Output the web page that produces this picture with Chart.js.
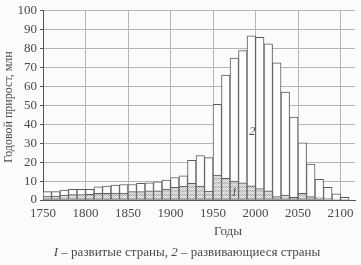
<!DOCTYPE html>
<html lang="ru">
<head>
<meta charset="UTF-8">
<title>Годовой прирост населения</title>
<script src="https://cdn.jsdelivr.net/npm/chart.js"></script>
<style>
  html, body { margin: 0; padding: 0; background: #fbfbfb; }
  #wrap { position: relative; width: 361px; height: 265px; }
</style>
</head>
<body>
<div id="wrap"><canvas id="myChart" width="361" height="265"></canvas></div>
<script>
// начало каждого десятилетия
const years = [1750, 1760, 1770, 1780, 1790, 1800, 1810, 1820, 1830, 1840,
               1850, 1860, 1870, 1880, 1890, 1900, 1910, 1920, 1930, 1940,
               1950, 1960, 1970, 1980, 1990, 2000, 2010, 2020, 2030, 2040,
               2050, 2060, 2070, 2080, 2090, 2100];
// 1 – развитые страны, млн в год
const developed = [2.1, 2.1, 2.6, 2.8, 2.9, 3.0, 3.5, 3.5, 3.6, 3.6,
                   4.4, 4.4, 4.9, 4.9, 5.8, 6.7, 7.4, 8.8, 7.4, 4.7,
                   13.2, 11.4, 10.0, 9.1, 7.5, 6.1, 4.9, 1.8, 2.6, 1.4,
                   3.5, 1.8, 1.2, 0.9, 0.5, 0.3];
// 2 – развивающиеся страны, млн в год
const developing = [2.3, 2.3, 2.7, 2.8, 2.7, 2.6, 3.5, 3.9, 4.3, 4.6,
                    3.8, 4.4, 4.2, 4.7, 4.7, 5.2, 5.4, 12.2, 16.1, 17.7,
                    37.3, 54.6, 65.0, 69.9, 79.3, 79.9, 77.6, 70.7, 54.4, 42.4,
                    26.7, 17.2, 9.7, 5.8, 2.7, 1.1];
const xTicks = [1750, 1800, 1850, 1900, 1950, 2000, 2050, 2100];
const yTicks = [0, 10, 20, 30, 40, 50, 60, 70, 80, 90, 100];

const ink = '#4a4a4a';
const font = 'Liberation Serif, Times New Roman, serif';

// штриховка (сетка) для развитых стран
function hatch() {
    const c = document.createElement('canvas');
    c.width = 4; c.height = 4;
    const g = c.getContext('2d');
    g.fillStyle = '#dedede';
    g.fillRect(0, 0, 4, 4);
    g.fillStyle = '#ababab';
    g.fillRect(0, 0, 1, 1);
    g.fillRect(2, 0, 1, 1);
    g.fillRect(1, 1, 1, 1);
    g.fillRect(3, 1, 1, 1);
    g.fillRect(0, 2, 1, 1);
    g.fillRect(2, 2, 1, 1);
    g.fillRect(1, 3, 1, 1);
    g.fillRect(3, 3, 1, 1);
    g.globalAlpha = 0.5;
    g.fillStyle = '#f0f0f0';
    g.fillRect(0, 0, 4, 2);
    return g.createPattern(c, 'repeat');
}

const texts = {
    id: 'texts',
    afterDraw(chart) {
        const ctx = chart.ctx;
        const xs = chart.scales.x, ys = chart.scales.y;
        ctx.save();
        ctx.fillStyle = ink;
        ctx.textBaseline = 'middle';
        ctx.textAlign = 'center';
        ctx.font = 'italic 12px ' + font;
        ctx.fillText('2', xs.getPixelForValue(1996), ys.getPixelForValue(36));
        ctx.fillText('1', xs.getPixelForValue(1975), ys.getPixelForValue(3.7));
        ctx.font = '13px ' + font;
        ctx.fillText('Годы', 228, 232);
        // подпись
        const parts = [['I', true], [' – развитые страны, ', false], ['2', true], [' – развивающиеся страны', false]];
        let w = 0;
        parts.forEach(p => { ctx.font = (p[1] ? 'italic ' : '') + '13px ' + font; w += ctx.measureText(p[0]).width; });
        let x = 187 - w / 2;
        ctx.textAlign = 'left';
        parts.forEach(p => {
            ctx.font = (p[1] ? 'italic ' : '') + '13px ' + font;
            ctx.fillText(p[0], x, 253);
            x += ctx.measureText(p[0]).width;
        });
        // подпись оси Y
        ctx.translate(9, 107);
        ctx.rotate(-Math.PI / 2);
        ctx.textAlign = 'center';
        ctx.font = '12px ' + font;
        ctx.fillText('Годовой прирост, млн', 0, 0);
        ctx.restore();
    }
};

const ctx = document.getElementById('myChart').getContext('2d');
const myChart = new Chart(ctx, {
    type: 'bar',
    data: {
        datasets: [{
            label: 'развитые страны',
            data: years.map((y, i) => ({ x: y + 5, y: developed[i] })),
            backgroundColor: hatch(),
            borderColor: '#5a5a5a',
            borderWidth: 1,
            borderSkipped: false,
            barPercentage: 1,
            categoryPercentage: 1
        }, {
            label: 'развивающиеся страны',
            data: years.map((y, i) => ({ x: y + 5, y: developing[i] })),
            backgroundColor: '#fdfdfd',
            borderColor: '#5a5a5a',
            borderWidth: 1,
            borderSkipped: 'start',
            barPercentage: 1,
            categoryPercentage: 1
        }]
    },
    options: {
        responsive: false,
        animation: false,
        layout: { padding: { top: 10, right: 6, left: 0, bottom: 0 } },
        plugins: { legend: { display: false }, tooltip: { enabled: false } },
        scales: {
            x: {
                type: 'linear',
                stacked: true,
                offset: false,
                min: 1750,
                max: 2117,
                afterBuildTicks: s => { s.ticks = xTicks.map(v => ({ value: v })); },
                afterFit: s => { s.height = 65; },
                ticks: { color: ink, font: { family: font, size: 13 }, padding: 6, maxRotation: 0, autoSkip: false,
                         callback: v => String(v) },
                grid: { color: '#b5b5b5', borderDash: [1, 2], drawTicks: false, lineWidth: 1, offset: false },
                border: { color: '#555', width: 1, display: true }
            },
            y: {
                stacked: true,
                min: 0,
                max: 100,
                afterBuildTicks: s => { s.ticks = yTicks.map(v => ({ value: v })); },
                afterFit: s => { s.width = 43; },
                ticks: { color: ink, font: { family: font, size: 13 }, padding: 3 },
                grid: { color: '#b5b5b5', borderDash: [1, 2], tickLength: 3, tickBorderDash: [], tickColor: '#555' },
                border: { color: '#555', width: 1 }
            }
        }
    },
    plugins: [texts]
});
</script>
</body>
</html>
